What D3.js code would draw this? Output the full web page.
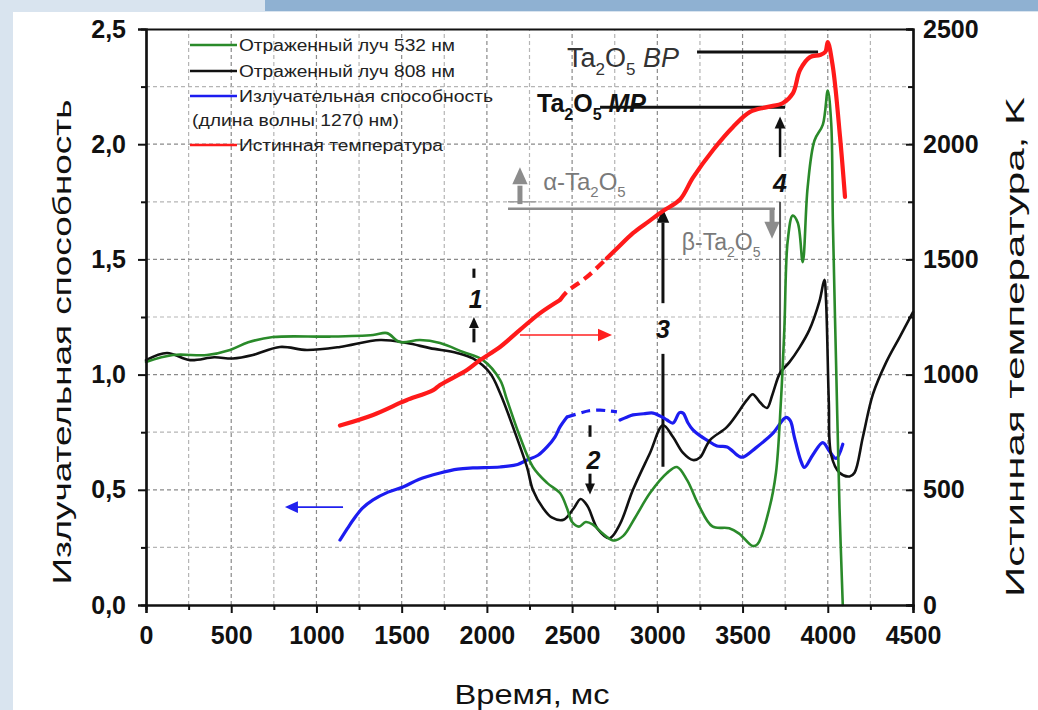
<!DOCTYPE html>
<html><head><meta charset="utf-8">
<script src="https://cdn.jsdelivr.net/npm/d3@7"></script>
<style>
body{margin:0;background:#fff}
svg{display:block}
text{font-family:"Liberation Sans",Arial,sans-serif}
</style>
</head><body>
<svg id="c" width="1038" height="710"></svg>
<script>
// ---------- data ----------
const xMajorTicks = [0,500,1000,1500,2000,2500,3000,3500,4000,4500];
const yMajorTicks = [0,0.5,1.0,1.5,2.0,2.5];
const tMajorTicks = [0,500,1000,1500,2000,2500];
const legendLabels = ["Отраженный луч 532 нм","Отраженный луч 808 нм","Излучательная способность","(длина волны 1270 нм)","Истинная температура"];

const green532 = [[0,1.055],[158,1.085],[358,1.085],[493,1.107],[600,1.14],[745,1.163],[1080,1.165],[1332,1.172],[1414,1.18],[1490,1.141],[1607,1.15],[1725,1.137],[1860,1.098],[1977,1.063],[2077,0.977],[2118,0.89],[2194,0.73],[2270,0.599],[2353,0.53],[2429,0.486],[2470,0.42],[2500,0.36],[2540,0.34],[2580,0.36],[2620,0.35],[2680,0.31],[2740,0.28],[2800,0.30],[2870,0.38],[2957,0.486],[3057,0.573],[3115,0.599],[3174,0.543],[3245,0.43],[3323,0.341],[3422,0.333],[3480,0.31],[3559,0.256],[3588,0.264],[3657,0.419],[3696,0.574],[3725,0.884],[3745,1.194],[3765,1.581],[3794,1.69],[3824,1.659],[3853,1.488],[3882,1.814],[3922,2.016],[3971,2.085],[4000,2.233],[4020,2.093],[4030,1.659],[4049,1.039],[4069,0.419],[4088,0]];

const black808 = [[0,1.063],[123,1.094],[258,1.063],[400,1.075],[510,1.07],[627,1.085],[786,1.12],[944,1.107],[1138,1.12],[1373,1.15],[1531,1.137],[1666,1.115],[1825,1.094],[1918,1.07],[2018,1.007],[2077,0.92],[2153,0.773],[2235,0.599],[2270,0.499],[2330,0.42],[2380,0.38],[2450,0.37],[2510,0.42],[2550,0.46],[2590,0.43],[2650,0.33],[2720,0.29],[2780,0.35],[2857,0.5],[2957,0.66],[3033,0.78],[3092,0.729],[3151,0.66],[3209,0.629],[3250,0.64],[3309,0.716],[3409,0.773],[3526,0.89],[3559,0.915],[3602,0.88],[3643,0.855],[3676,0.915],[3720,1.007],[3775,1.054],[3833,1.116],[3892,1.194],[3951,1.318],[3980,1.411],[3990,1.318],[4006,0.884],[4020,0.651],[4069,0.574],[4128,0.558],[4157,0.574],[4206,0.729],[4265,0.915],[4343,1.054],[4422,1.163],[4500,1.271]];

const emissivity1 = [[1138,0.282],[1180,0.33],[1215,0.369],[1270,0.42],[1332,0.456],[1420,0.49],[1508,0.512],[1600,0.545],[1725,0.573],[1830,0.59],[1918,0.595],[2077,0.599],[2180,0.61],[2235,0.629],[2300,0.65],[2353,0.686],[2400,0.73],[2429,0.773],[2470,0.816]];
const emissivity2 = [[2470,0.816],[2546,0.833],[2600,0.843],[2664,0.846],[2720,0.842],[2763,0.838]];
const emissivity3 = [[2781,0.803],[2820,0.815],[2857,0.825],[2920,0.83],[2975,0.833],[3030,0.815],[3057,0.803],[3092,0.79],[3130,0.835],[3151,0.833],[3180,0.79],[3209,0.76],[3250,0.735],[3291,0.716],[3350,0.69],[3409,0.686],[3480,0.645],[3503,0.642],[3578,0.682],[3676,0.744],[3755,0.814],[3780,0.8],[3804,0.729],[3840,0.63],[3863,0.597],[3912,0.651],[3971,0.705],[4010,0.667],[4049,0.636],[4088,0.698]];

const temperature1 = [[1138,779],[1332,825],[1490,877],[1531,890],[1685,933],[1725,955],[1883,1020],[1960,1063],[2077,1120],[2194,1194],[2312,1267],[2429,1324]];
const temperature2 = [[2429,1324],[2470,1360],[2587,1424],[2704,1505]];
const temperature3 = [[2704,1505],[2760,1545],[2857,1614],[2950,1665],[3033,1710],[3133,1760],[3209,1855],[3327,1975],[3444,2075],[3544,2140],[3643,2161],[3737,2179],[3796,2222],[3837,2322],[3896,2378],[3954,2387],[3985,2400],[4000,2443],[4030,2335],[4072,2031],[4101,1771]];

// ---------- setup ----------
const svg = d3.select("#c");
const W = 1038, H = 710;
const x = d3.scaleLinear([0,4500],[146,913]);
const y = d3.scaleLinear([0,2.5],[605,29]);
const yT = d3.scaleLinear([0,2500],[605,29]);

// page frame
svg.append("rect").attr("width",W).attr("height",H).attr("fill","#d9e4ef");
svg.append("rect").attr("x",265).attr("y",0).attr("width",W-265).attr("height",11).attr("fill","#8fb1d2");
svg.append("rect").attr("x",13).attr("y",12).attr("width",W-13).attr("height",H-12).attr("fill","#ffffff");

// grid
const g = svg.append("g");
const vGrid = d3.range(250,4500,250);
const hGrid = d3.range(0.25,2.5,0.25);
g.selectAll(".vg").data(vGrid).join("line")
  .attr("x1",d=>x(d)).attr("x2",d=>x(d)).attr("y1",y(0)).attr("y2",y(2.5))
  .attr("stroke",d=>d%500===0?"#8a8a8a":"#b5b5b5").attr("stroke-width",1.2).attr("stroke-dasharray","4,3");
g.selectAll(".hg").data(hGrid).join("line")
  .attr("y1",d=>y(d)).attr("y2",d=>y(d)).attr("x1",x(0)).attr("x2",x(4500))
  .attr("stroke",d=>Math.abs(d*2-Math.round(d*2))<1e-6?"#8a8a8a":"#b5b5b5").attr("stroke-width",1.2).attr("stroke-dasharray","4,3");

// ---------- annotations (behind curves) ----------
const ann = svg.append("g");
function arrowHead(px,py,dir,size,color){
  const s=size, w=size*0.45;
  let p;
  if(dir==='up') p=[[px,py],[px-w,py+s],[px+w,py+s]];
  if(dir==='down') p=[[px,py],[px-w,py-s],[px+w,py-s]];
  if(dir==='left') p=[[px,py],[px+s,py-w],[px+s,py+w]];
  if(dir==='right') p=[[px,py],[px-s,py-w],[px-s,py+w]];
  ann.append("path").attr("d","M"+p.map(q=>q.join(",")).join("L")+"Z").attr("fill",color);
}
function formula(parent,px,py,size,fill,weight,prefix,suffix,anchor){
  const t = parent.append("text").attr("x",px).attr("y",py).attr("font-size",size).attr("fill",fill)
    .attr("font-weight",weight).attr("text-anchor",anchor||"start");
  const sub = Math.round(size*0.62), d = Math.round(size*0.3);
  t.append("tspan").text(prefix+"Ta");
  t.append("tspan").attr("dy",d).attr("font-size",sub).text("2");
  t.append("tspan").attr("dy",-d).text("O");
  t.append("tspan").attr("dy",d).attr("font-size",sub).text("5");
  if(suffix){
    t.append("tspan").attr("dy",-d).text(" ");
    t.append("tspan").attr("font-style","italic").text(suffix);
  }
  return t;
}
// alpha / beta line
ann.append("line").attr("x1",x(2124)).attr("x2",x(3690)).attr("y1",y(1.72)).attr("y2",y(1.72)).attr("stroke","#8c8c8c").attr("stroke-width",2.5);
ann.append("line").attr("x1",x(2124)).attr("x2",x(2290)).attr("y1",y(1.75)).attr("y2",y(1.75)).attr("stroke","#a0a0a0").attr("stroke-width",1.5);
ann.append("line").attr("x1",x(2194)).attr("x2",x(2194)).attr("y1",y(1.74)).attr("y2",y(1.82)).attr("stroke","#8c8c8c").attr("stroke-width",5);
arrowHead(x(2194),y(1.9),'up',17,"#8c8c8c");
ann.append("line").attr("x1",x(3673)).attr("x2",x(3673)).attr("y1",y(1.72)).attr("y2",y(1.65)).attr("stroke","#8c8c8c").attr("stroke-width",5);
arrowHead(x(3673),y(1.59),'down',17,"#8c8c8c");
formula(ann,x(2330),y(1.8),24,"#7a7a7a","normal","α-",null);
formula(ann,x(3605),y(1.54),23,"#7a7a7a","normal","β-",null,"end");
// BP
ann.append("line").attr("x1",x(3233)).attr("x2",x(3943)).attr("y1",yT(2400)).attr("y2",yT(2400)).attr("stroke","#111").attr("stroke-width",3);
formula(ann,x(2470),yT(2335),27,"#333","normal","","BP");
// MP
ann.append("line").attr("x1",x(2664)).attr("x2",x(3749)).attr("y1",yT(2160)).attr("y2",yT(2160)).attr("stroke","#111").attr("stroke-width",3);
formula(ann,x(2294),yT(2140),25,"#111","bold","","MP");
// arrow 4
ann.append("line").attr("x1",x(3720)).attr("x2",x(3720)).attr("y1",yT(1944)).attr("y2",yT(2080)).attr("stroke","#111").attr("stroke-width",2.5);
arrowHead(x(3720),yT(2120),'up',12,"#111");
ann.append("line").attr("x1",x(3720)).attr("x2",x(3720)).attr("y1",y(1.75)).attr("y2",y(1.0)).attr("stroke","#555").attr("stroke-width",2);
// arrow 3
ann.append("line").attr("x1",x(3033)).attr("x2",x(3033)).attr("y1",y(1.66)).attr("y2",y(1.31)).attr("stroke","#111").attr("stroke-width",3);
ann.append("line").attr("x1",x(3033)).attr("x2",x(3033)).attr("y1",y(1.09)).attr("y2",y(0.6)).attr("stroke","#111").attr("stroke-width",3);
arrowHead(x(3033),y(1.72),'up',14,"#111");
// arrow 1
ann.append("line").attr("x1",x(1924)).attr("x2",x(1924)).attr("y1",y(1.46)).attr("y2",y(1.42)).attr("stroke","#111").attr("stroke-width",3);
ann.append("line").attr("x1",x(1924)).attr("x2",x(1924)).attr("y1",y(1.2)).attr("y2",y(1.14)).attr("stroke","#111").attr("stroke-width",3);
arrowHead(x(1924),y(1.25),'up',11,"#111");
// arrow 2
ann.append("line").attr("x1",x(2605)).attr("x2",x(2605)).attr("y1",y(0.78)).attr("y2",y(0.73)).attr("stroke","#111").attr("stroke-width",3);
ann.append("line").attr("x1",x(2605)).attr("x2",x(2605)).attr("y1",y(0.57)).attr("y2",y(0.52)).attr("stroke","#111").attr("stroke-width",3);
arrowHead(x(2605),y(0.48),'down',11,"#111");
// number labels
const nums = [["1",1935,1.33],["2",2625,0.63],["3",3033,1.2],["4",3720,1.83]];
ann.selectAll(".num").data(nums).join("text")
  .attr("x",d=>x(d[1])).attr("y",d=>y(d[2])+9).attr("text-anchor","middle")
  .attr("font-size",25).attr("font-weight","bold").attr("font-style","italic").attr("fill","#111").text(d=>d[0]);
// red arrow -> right axis
ann.append("line").attr("x1",x(2194)).attr("x2",x(2700)).attr("y1",y(1.172)).attr("y2",y(1.172)).attr("stroke","#ff2020").attr("stroke-width",1.5);
arrowHead(x(2734),y(1.172),'right',14,"#ff2020");
// blue arrow -> left axis
ann.append("line").attr("x1",x(1156)).attr("x2",x(870)).attr("y1",y(0.425)).attr("y2",y(0.425)).attr("stroke","#2020ee").attr("stroke-width",1.8);
arrowHead(x(815),y(0.425),'left',13,"#2020ee");

// ---------- curves ----------
const lineV = d3.line().x(d=>x(d[0])).y(d=>y(d[1])).curve(d3.curveCatmullRom.alpha(0.5));
const lineT = d3.line().x(d=>x(d[0])).y(d=>yT(d[1])).curve(d3.curveCatmullRom.alpha(0.5));
const cg = svg.append("g").attr("fill","none").attr("stroke-linejoin","round").attr("stroke-linecap","round");
cg.append("path").attr("d",lineV(emissivity1)).attr("stroke","#1c1cf0").attr("stroke-width",3.2);
cg.append("path").attr("d",lineV(emissivity2)).attr("stroke","#1c1cf0").attr("stroke-width",3.2).attr("stroke-dasharray","9,6").attr("stroke-linecap","butt");
cg.append("path").attr("d",lineV(emissivity3)).attr("stroke","#1c1cf0").attr("stroke-width",3.2);
cg.append("path").attr("d",lineV(black808)).attr("stroke","#111").attr("stroke-width",2.6);
cg.append("path").attr("d",lineV(green532)).attr("stroke","#2a8a2a").attr("stroke-width",2.6);
cg.append("path").attr("d",lineT(temperature1)).attr("stroke","#ff1a1a").attr("stroke-width",4.2);
cg.append("path").attr("d",lineT(temperature2)).attr("stroke","#ff1a1a").attr("stroke-width",4.2).attr("stroke-dasharray","10,6").attr("stroke-linecap","butt");
cg.append("path").attr("d",lineT(temperature3)).attr("stroke","#ff1a1a").attr("stroke-width",4.2);

// ---------- axes ----------
const fmt = d=>d3.format(".1f")(d).replace(".",",");
const axL = svg.append("g").attr("transform",`translate(${x(0)},0)`)
  .call(d3.axisLeft(y).tickValues(yMajorTicks).tickFormat(fmt).tickSize(8).tickPadding(12));
svg.append("g").attr("transform",`translate(${x(0)},0)`)
  .call(d3.axisLeft(y).tickValues(d3.range(0.25,2.5,0.5)).tickFormat("").tickSize(5));
const axB = svg.append("g").attr("transform",`translate(0,${y(0)})`)
  .call(d3.axisBottom(x).tickValues(xMajorTicks).tickFormat(d3.format("d")).tickSize(8).tickPadding(13));
svg.append("g").attr("transform",`translate(0,${y(0)})`)
  .call(d3.axisBottom(x).tickValues(d3.range(250,4500,500)).tickFormat("").tickSize(5));
const axR = svg.append("g").attr("transform",`translate(${x(4500)},0)`)
  .call(d3.axisRight(yT).tickValues(tMajorTicks).tickFormat(d3.format("d")).tickSize(-7).tickPadding(10));
svg.append("g").attr("transform",`translate(${x(4500)},0)`)
  .call(d3.axisRight(yT).tickValues(d3.range(250,2500,500)).tickFormat("").tickSize(-5));
svg.append("g").attr("transform",`translate(0,${y(2.5)})`)
  .call(d3.axisTop(x).tickValues([]).tickSizeOuter(0));
svg.selectAll(".domain").attr("stroke","#111").attr("stroke-width",2.2);
svg.selectAll(".tick line").attr("stroke","#111").attr("stroke-width",2);
svg.selectAll(".tick text").attr("font-family","'Liberation Sans',Arial,sans-serif").attr("font-weight","bold").attr("fill","#111").attr("font-size",25);

// axis titles
svg.append("text").attr("transform",`translate(71,342) rotate(-90)`).attr("text-anchor","middle")
  .attr("font-size",26).attr("fill","#111").attr("textLength",485).attr("lengthAdjust","spacingAndGlyphs").text("Излучательная способность");
svg.append("text").attr("transform",`translate(1024,347) rotate(-90)`).attr("text-anchor","middle")
  .attr("font-size",26).attr("fill","#111").attr("textLength",500).attr("lengthAdjust","spacingAndGlyphs").text("Истинная температура, K");
svg.append("text").attr("x",532).attr("y",704).attr("text-anchor","middle")
  .attr("font-size",27).attr("fill","#111").attr("textLength",155).attr("lengthAdjust","spacingAndGlyphs").text("Время, мс");

// ---------- legend ----------
const legColors = ["#2a8a2a","#111","#1c1cf0",null,"#ff1a1a"];
const legY = [45,71,96,120,145];
const legWidths = [216,216,254,207,204];
const lg = svg.append("g");
legendLabels.forEach((lab,i)=>{
  if(legColors[i]) lg.append("line").attr("x1",190).attr("x2",237).attr("y1",legY[i]).attr("y2",legY[i]).attr("stroke",legColors[i]).attr("stroke-width",2.5);
  lg.append("text").attr("x",legColors[i]?239:192).attr("y",legY[i]+6).attr("font-size",16).attr("fill","#222")
    .attr("textLength",legWidths[i]).attr("lengthAdjust","spacingAndGlyphs").text(lab);
});
</script>
</body></html>
